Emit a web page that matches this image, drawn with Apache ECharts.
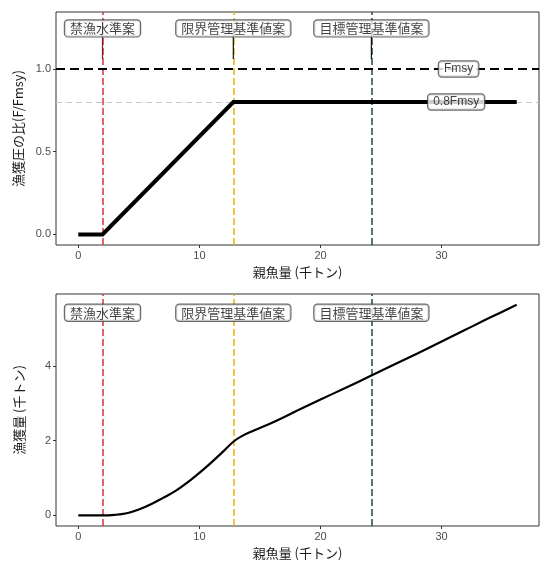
<!DOCTYPE html>
<html>
<head>
<meta charset="utf-8">
<script src="https://cdn.jsdelivr.net/npm/echarts@6/dist/echarts.min.js"></script>
<style>
  html, body { margin: 0; padding: 0; background: #ffffff; }
  #chart { width: 545px; height: 563px; }
</style>
</head>
<body>
<div id="chart"></div>
<script>
// Harvest control rule (top) and the catch it implies (bottom), both against spawning biomass.

// Spawning biomass (thousand t) tick positions
const xTicks = [0, 10, 20, 30];

// Reference points
const refNames = ['禁漁水準案', '限界管理基準値案', '目標管理基準値案'];
const refValues = [2.0, 12.8, 24.2];
const refColors = ['#d8343a', '#e6b40c', '#1d4a48'];

// Top panel: fishing pressure ratio F/Fmsy
const hcrBiomass = [0, 2.0, 12.8, 36.2];
const hcrRatio = [0, 0, 0.8, 0.8];
const fLevelNames = ['Fmsy', '0.8Fmsy'];
const fLevelValues = [1.0, 0.8];
const fLabelBiomass = [31.4, 31.2];
const topTicks = [0, 0.5, 1.0];
const topLabelLevel = 1.245;
const topSegmentEnd = 1.06;

// Bottom panel: expected catch (thousand t)
const catchBiomass = [0, 1, 2, 3, 4, 5, 6, 7, 8, 9, 10, 11, 12, 12.8, 13.5, 14.5, 16, 18, 20, 22, 24.2, 26, 28, 30, 32, 34, 36.2];
const catchValues = [0, 0, 0, 0.015, 0.06, 0.16, 0.3, 0.47, 0.65, 0.88, 1.14, 1.42, 1.72, 1.97, 2.12, 2.27, 2.48, 2.79, 3.1, 3.4, 3.74, 4.02, 4.33, 4.65, 4.97, 5.29, 5.63];
const bottomTicks = [0, 2, 4];
const bottomLabelLevel = 5.42;

const FONT = "'Liberation Sans', 'Noto Sans CJK JP', sans-serif";
const CJK = "'Noto Sans CJK JP', 'Liberation Sans', sans-serif";

const pairs = (xs, ys) => xs.map((x, i) => [x, ys[i]]);

function xAxisFor(gridIndex) {
  return {
    type: 'value', gridIndex: gridIndex,
    min: -1.84, max: 38.04,
    name: '親魚量 (千トン)', nameLocation: 'middle', nameGap: 21,
    nameTextStyle: { fontFamily: CJK, fontSize: 13, color: '#1a1a1a' },
    axisLine: { show: false, onZero: false },
    axisTick: { show: true, customValues: xTicks, length: 3, lineStyle: { color: '#333' } },
    axisLabel: { customValues: xTicks, fontFamily: FONT, fontSize: 11, color: '#4d4d4d', margin: 5 },
    splitLine: { show: false }
  };
}

function yAxisFor(gridIndex, min, max, ticks, name, digits) {
  return {
    type: 'value', gridIndex: gridIndex,
    min: min, max: max,
    name: name, nameLocation: 'middle', nameGap: 30, nameRotate: 90,
    nameTextStyle: { fontFamily: CJK, fontSize: 13, color: '#1a1a1a' },
    axisLine: { show: false, onZero: false },
    axisTick: { show: true, customValues: ticks, length: 3, lineStyle: { color: '#333' } },
    axisLabel: {
      customValues: ticks, fontFamily: FONT, fontSize: 11, color: '#4d4d4d', margin: 5,
      formatter: v => v.toFixed(digits)
    },
    splitLine: { show: false }
  };
}

const boxLabel = {
  show: true, position: 'inside',
  fontFamily: CJK, fontSize: 13, color: '#111',
  backgroundColor: '#ffffff', borderColor: '#444', borderWidth: 1.2, borderRadius: 3,
  padding: [2, 5, 1, 5]
};

// Vertical dashed reference lines, one markLine per reference point
function refMarkLines() {
  return {
    silent: true, symbol: 'none', label: { show: false },
    data: refValues.map((v, i) => ({
      xAxis: v,
      lineStyle: { color: refColors[i], type: [7, 3], width: 1.5 }
    }))
  };
}

function refLabelSeries(xi, yi, level) {
  return {
    type: 'scatter', xAxisIndex: xi, yAxisIndex: yi, z: 20,
    symbolSize: 1, itemStyle: { color: 'rgba(0,0,0,0)' },
    data: refValues.map((v, i) => ({ value: [v, level], name: refNames[i] })),
    label: Object.assign({}, boxLabel, { formatter: p => p.name })
  };
}

const series = [
  // top: reference lines + F levels
  {
    type: 'line', xAxisIndex: 0, yAxisIndex: 0, data: [], z: 3,
    markLine: refMarkLines()
  },
  {
    type: 'line', xAxisIndex: 0, yAxisIndex: 0, data: [], z: 2,
    markLine: {
      silent: true, symbol: 'none', label: { show: false },
      data: [
        { yAxis: fLevelValues[0], lineStyle: { color: '#000', type: [9, 5], width: 2.2 } },
        { yAxis: fLevelValues[1], lineStyle: { color: '#c8c8c8', type: [6, 4], width: 1 } }
      ]
    }
  },
  // top: harvest control rule
  {
    type: 'line', xAxisIndex: 0, yAxisIndex: 0, z: 5,
    data: pairs(hcrBiomass, hcrRatio),
    showSymbol: false, symbol: 'none',
    lineStyle: { color: '#000', width: 4, cap: 'butt', join: 'miter' }
  },
  // top: connectors from the labels down to the lines
  ...refValues.map((v, i) => ({
    type: 'line', xAxisIndex: 0, yAxisIndex: 0, z: 6,
    data: [[v, topLabelLevel], [v, topSegmentEnd]],
    showSymbol: false, symbol: 'none',
    lineStyle: { color: i === 0 ? '#6e1e1e' : '#111', width: 1.2 }
  })),
  refLabelSeries(0, 0, topLabelLevel),
  {
    type: 'scatter', xAxisIndex: 0, yAxisIndex: 0, z: 20,
    symbolSize: 1, itemStyle: { color: 'rgba(0,0,0,0)' },
    data: fLevelNames.map((n, i) => ({ value: [fLabelBiomass[i], fLevelValues[i]], name: n })),
    label: Object.assign({}, boxLabel, { fontFamily: FONT, fontSize: 12, formatter: p => p.name })
  },
  // bottom: reference lines
  {
    type: 'line', xAxisIndex: 1, yAxisIndex: 1, data: [], z: 3,
    markLine: refMarkLines()
  },
  // bottom: catch curve
  {
    type: 'line', xAxisIndex: 1, yAxisIndex: 1, z: 5,
    data: pairs(catchBiomass, catchValues),
    smooth: 0.4,
    showSymbol: false, symbol: 'none',
    lineStyle: { color: '#000', width: 2.2 }
  },
  refLabelSeries(1, 1, bottomLabelLevel)
];

const chart = echarts.init(document.getElementById('chart'), null, { renderer: 'canvas' });
chart.setOption({
  backgroundColor: '#ffffff',
  animation: false,
  grid: [
    { left: 56, right: 6, top: 12, height: 233, show: true, borderColor: '#333', borderWidth: 1, backgroundColor: '#fff' },
    { left: 56, right: 6, top: 294, height: 232, show: true, borderColor: '#333', borderWidth: 1, backgroundColor: '#fff' }
  ],
  xAxis: [xAxisFor(0), xAxisFor(1)],
  yAxis: [
    yAxisFor(0, -0.064, 1.344, topTicks, '漁獲圧の比(F/Fmsy)', 1),
    yAxisFor(1, -0.282, 5.92, bottomTicks, '漁獲量 (千トン)', 0)
  ],
  series: series
});
</script>
</body>
</html>
